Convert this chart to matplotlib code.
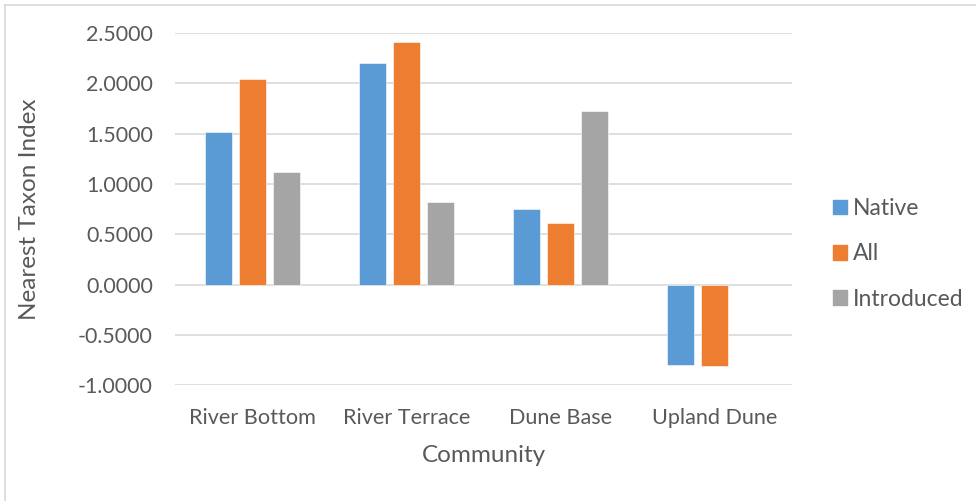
import matplotlib
matplotlib.use("Agg")
import matplotlib.pyplot as plt
from matplotlib.lines import Line2D
import numpy as np

categories = ["River Bottom", "River Terrace", "Dune Base", "Upland Dune"]
native = [1.521, 2.206, 0.751, -0.798]
all_taxa = [2.044, 2.413, 0.608, -0.808]
introduced = [1.117, 0.817, 1.721, np.nan]
series_names = ["Native", "All", "Introduced"]
yticks = [-1.0, -0.5, 0.0, 0.5, 1.0, 1.5, 2.0, 2.5]

colors = ["#5B9BD5", "#ED7D31", "#A5A5A5"]
text_color = "#595959"
plt.rcParams['font.family'] = ['Lato', 'DejaVu Sans']

W, H = 976, 501
fig = plt.figure(figsize=(W / 100, H / 100), dpi=100)
ax = fig.add_axes([175 / W, 1 - 385.3 / H, (792 - 175) / W, (385.3 - 33) / H])

x = np.arange(len(categories))
width = 0.175
step = 0.221
for i, (vals, name) in enumerate(zip([native, all_taxa, introduced], series_names)):
    ax.bar(x + (i - 1) * step, vals, width, color=colors[i], label=name,
           edgecolor="white", linewidth=0.4, zorder=3)

ax.set_xlim(-0.5, len(categories) - 0.5)
ax.set_ylim(-1.0, 2.5)
ax.set_yticks(yticks)
ax.set_yticklabels([f"{v:.4f}" for v in yticks])
ax.set_xticks(x)
ax.set_xticklabels(categories)
ax.grid(axis="y", color="#D9D9D9", linewidth=1.2, zorder=0)
ax.set_axisbelow(True)
for s in ax.spines.values():
    s.set_visible(False)
ax.tick_params(axis="y", length=0, pad=16, labelsize=15.4, labelcolor=text_color)
ax.tick_params(axis="x", length=0, pad=16.5, labelsize=15.6, labelcolor=text_color)
ax.set_ylabel("Nearest Taxon Index", fontsize=17.5, color=text_color, va="center")
ax.set_xlabel("Community", fontsize=17.5, color=text_color, va="center")
ax.yaxis.set_label_coords((30 - 175) / 617, 0.5)
ax.xaxis.set_label_coords(0.5, (385.3 - 456) / 352.3)

handles = [plt.Rectangle((0, 0), 1, 1, color=c) for c in colors]
fig.legend(handles, series_names, loc="center left",
           bbox_to_anchor=(833 / W, 1 - 254 / H), frameon=False,
           fontsize=16.5, labelcolor=text_color, handlelength=0.61,
           handleheight=0.61, handletextpad=0.26, labelspacing=1.06,
           borderpad=0, borderaxespad=0)

# figure border (left and top visible)
fig.add_artist(Line2D([4.5 / W, 4.5 / W], [0, 1 - 4.5 / H], transform=fig.transFigure,
                      color="#D9D9D9", linewidth=1.2))
fig.add_artist(Line2D([4.5 / W, 1], [1 - 4.5 / H, 1 - 4.5 / H], transform=fig.transFigure,
                      color="#D9D9D9", linewidth=1.2))

fig.savefig("out.png", dpi=100, facecolor="white")
